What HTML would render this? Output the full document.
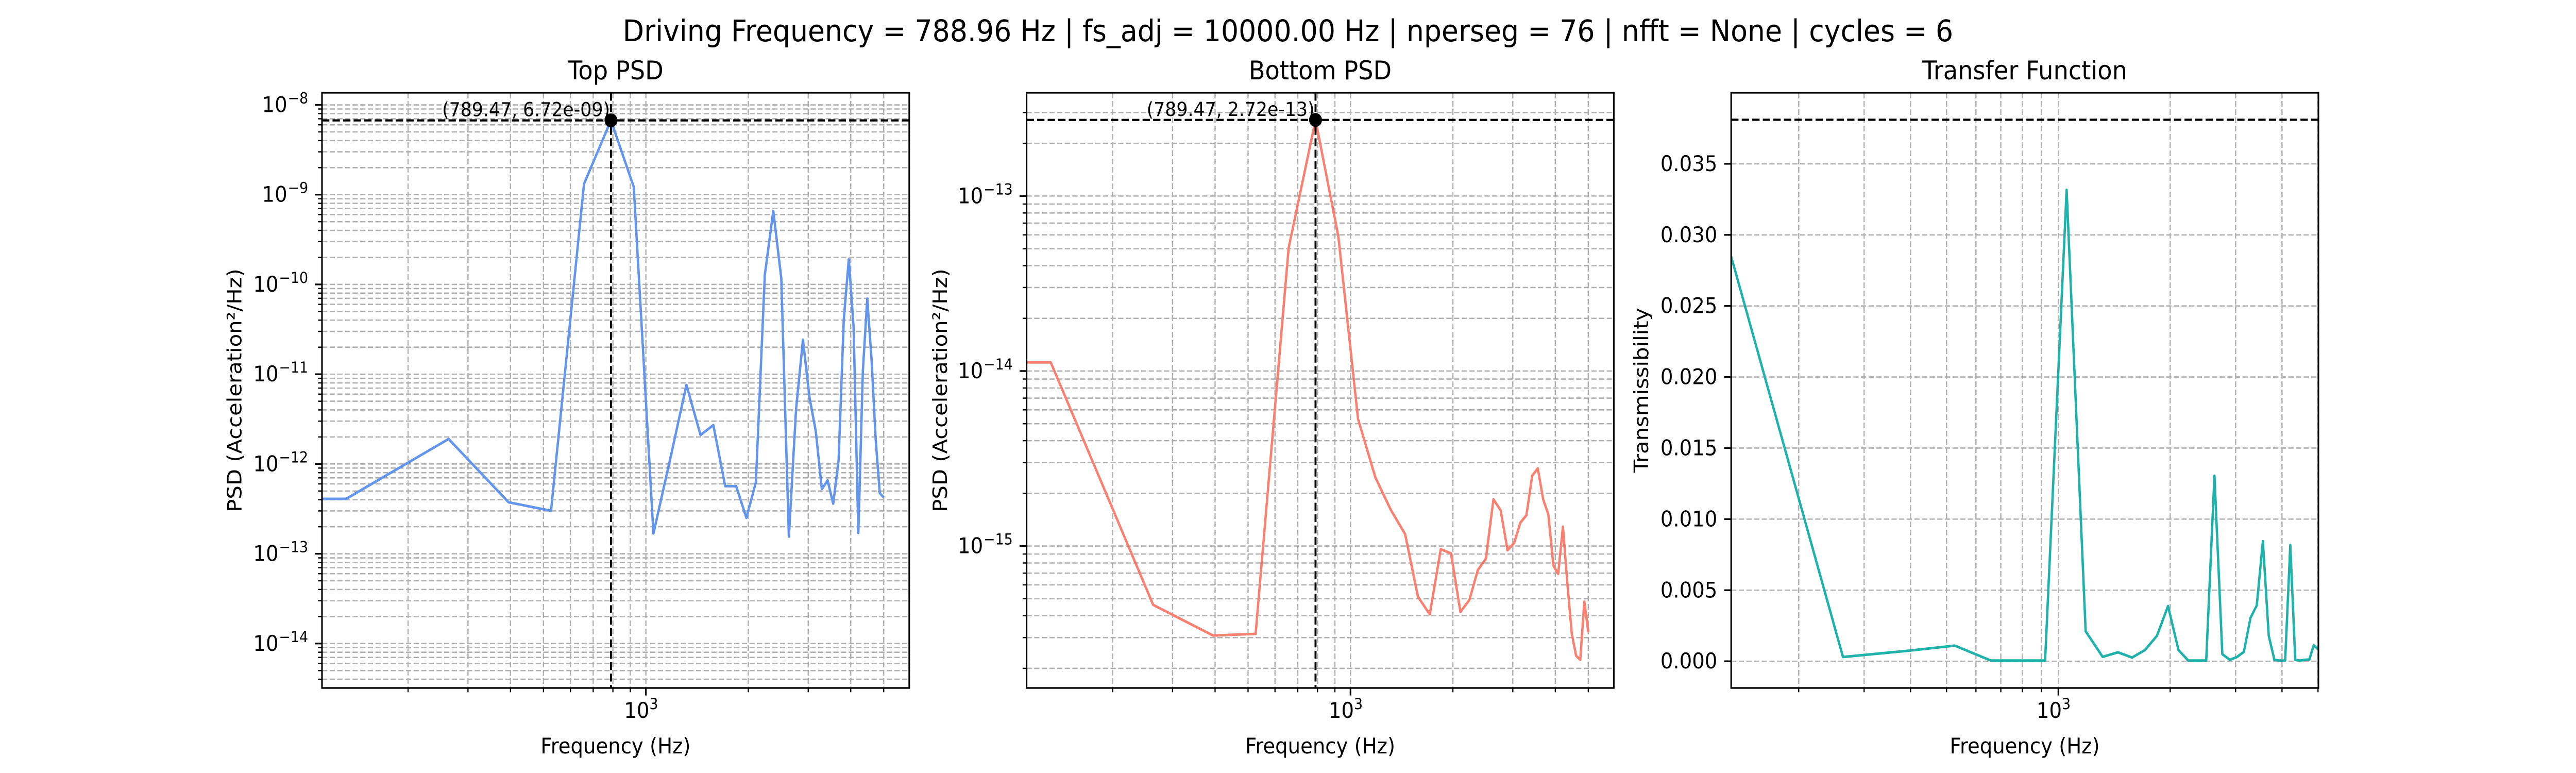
<!DOCTYPE html>
<html><head><meta charset="utf-8"><style>
html,body{margin:0;padding:0;background:#fff;overflow:hidden;width:100vw;height:100vh;}
svg{display:block;position:absolute;left:0;top:0;width:100vw;height:100vh;font-family:"DejaVu Sans","Liberation Sans",sans-serif;}
</style></head><body>
<svg id="fig" viewBox="0 0 5400 1500" preserveAspectRatio="none" xmlns="http://www.w3.org/2000/svg">
<rect width="5400" height="1500" fill="#fff"/>
<text x="2700" y="80" font-size="58" text-anchor="middle">Driving Frequency = 788.96 Hz | fs_adj = 10000.00 Hz | nperseg = 76 | nfft = None | cycles = 6</text>
</svg>
<script>
// ---- data ----
const psdFreqs = [111.7,131.58,263.16,394.74,526.32,657.89,789.47,921.05,1052.63,1184.21,1315.79,1447.37,1578.95,1710.53,1842.11,1973.68,2105.26,2236.84,2368.42,2500.0,2631.58,2763.16,2894.74,3026.32,3157.89,3289.47,3421.05,3552.63,3684.21,3815.79,3947.37,4078.95,4210.53,4342.11,4473.68,4605.26,4736.84,4868.42,5000.0];
const topPsd = [4.09e-13,4.09e-13,1.90e-12,3.75e-13,3.01e-13,1.32e-9,6.72e-9,1.22e-9,1.68e-13,1.23e-12,7.59e-12,2.10e-12,2.71e-12,5.66e-13,5.66e-13,2.51e-13,6.25e-13,1.28e-10,6.59e-10,1.17e-10,1.55e-13,4.08e-12,2.42e-11,5.47e-12,2.32e-12,5.25e-13,6.56e-13,3.61e-13,1.09e-12,4.06e-11,1.91e-10,3.34e-11,1.70e-13,1.09e-11,6.95e-11,1.46e-11,1.87e-12,4.75e-13,4.23e-13];
const bottomPsd = [1.12e-14,1.12e-14,4.61e-16,3.08e-16,3.15e-16,5.04e-14,2.72e-13,5.90e-14,5.32e-15,2.46e-15,1.60e-15,1.17e-15,5.13e-16,4.07e-16,9.59e-16,9.08e-16,4.20e-16,4.93e-16,7.30e-16,8.47e-16,1.85e-15,1.60e-15,9.46e-16,1.04e-15,1.36e-15,1.50e-15,2.52e-15,2.78e-15,1.85e-15,1.51e-15,7.74e-16,6.93e-16,1.29e-15,6.03e-16,3.14e-16,2.36e-16,2.24e-16,4.81e-16,3.22e-16];
const tfFreqs = [131.58,263.16,394.74,526.32,657.89,789.47,921.05,1052.63,1184.21,1315.79,1447.37,1578.95,1710.53,1842.11,1973.68,2105.26,2236.84,2368.42,2500.0,2631.58,2763.16,2894.74,3026.32,3157.89,3289.47,3421.05,3552.63,3684.21,3815.79,3947.37,4078.95,4210.53,4342.11,4473.68,4605.26,4736.84,4868.42,5000.0];
const transfer = [0.02848,0.0003,0.00074,0.0011,0.00005,0.00005,0.00005,0.03317,0.00211,0.00031,0.00063,0.00026,0.00079,0.00179,0.00388,0.00079,0.00005,0.00005,0.00005,0.01305,0.0005,0.0001,0.0003,0.00066,0.00305,0.00393,0.00844,0.00179,0.0001,0.00005,0.00005,0.00817,0.0001,0.00005,0.0001,0.00012,0.00112,0.00085];
const peakFreq = 789.47;
const topPeak = 6.72e-9;
const bottomPeak = 2.72e-13;
const tfRefLine = 0.0381;
const tfTicks = [0.000,0.005,0.010,0.015,0.020,0.025,0.030,0.035];

const NS = "http://www.w3.org/2000/svg";
const fig = document.getElementById('fig');
function mk(tag, attrs, parent){ const e=document.createElementNS(NS,tag); for(const k in attrs) e.setAttribute(k,attrs[k]); (parent||fig).appendChild(e); return e; }

const TOP=180, BOT=1335, GRID="#b0b0b0";
function logX(x0,x1,fmin,fmax){ return f => x0+(x1-x0)*(Math.log10(f)-Math.log10(fmin))/(Math.log10(fmax)-Math.log10(fmin)); }

function panel(opt){
  const g = mk('g',{});
  
  
  const {x0,x1,fmin,fmax} = opt;
  const X = logX(x0,x1,fmin,fmax);
  const Y = opt.Y;
  const clipId = opt.name+'-clip';
  const cp = mk('clipPath',{id:clipId},g); mk('rect',{x:x0,y:TOP,width:x1-x0,height:BOT-TOP},cp);
  const grid = mk('g',{stroke:GRID,'stroke-width':2.6,'stroke-dasharray':'11 5'},g);
  
  
  for(let d=2; d<=3; d++){
    for(let m=1;m<=9;m++){
      const f=m*Math.pow(10,d); if(f<fmin||f>fmax) continue;
      const x=X(f);
      mk('line',{x1:x,x2:x,y1:TOP,y2:BOT},grid);
      const major = (m===1);
      mk('line',{x1:x,x2:x,y1:BOT,y2:BOT+(major?14.6:8.3),stroke:'#000','stroke-width':major?3.3:2.5},g);
      if(major){
        const t=mk('text',{x:x-10,y:1393,'font-size':41.7,'text-anchor':'middle'},g);
        
        
        t.textContent='10';
        const s=mk('tspan',{dy:-17,'font-size':29},t); s.textContent=d;
      }
    }
  }
  opt.yaxis(g,grid);
  const gc = mk('g',{'clip-path':'url(#'+clipId+')'},g);
  const pts = opt.freqs.map((f,i)=>X(f).toFixed(1)+','+Y(opt.values[i]).toFixed(1)).join(' ');
  const line = mk('polyline',{points:pts,fill:'none',stroke:opt.color,'stroke-width':5,'stroke-linejoin':'round'},gc);
  
  
  if(opt.hline!==undefined){
    const hl = mk('line',{x1:x0,x2:x1,y1:Y(opt.hline),y2:Y(opt.hline),stroke:'#000','stroke-width':4.2,'stroke-dasharray':'15.4 6.7'},gc);
    
    
  }
  if(opt.peak!==undefined){
    const px=X(peakFreq), py=Y(opt.peak);
    const vl = mk('line',{x1:px,x2:px,y1:TOP,y2:BOT,stroke:'#000','stroke-width':4.2,'stroke-dasharray':'15.4 6.7'},gc);
    
    
    const c = mk('circle',{cx:px,cy:py,r:13.5,fill:'#000'},g);
    
    
    const at = mk('text',{x:px-2,y:py-8,'font-size':37.5,'text-anchor':'end'},g);
    
    
    at.textContent='('+peakFreq.toFixed(2)+', '+opt.peak.toExponential(2).replace(/e([+-])(\d)$/,'e$10$2')+')';
  }
  const fr = mk('rect',{x:x0,y:TOP,width:x1-x0,height:BOT-TOP,fill:'none',stroke:'#000','stroke-width':3.3},g);
  
  
  const tt = mk('text',{x:(x0+x1)/2,y:154,'font-size':50,'text-anchor':'middle'},g);
  
  
  tt.textContent=opt.title;
  const xl = mk('text',{x:(x0+x1)/2,y:1462,'font-size':41.7,'text-anchor':'middle'},g);
  
  
  xl.textContent='Frequency (Hz)';
  const yl = mk('text',{x:0,y:0,'font-size':41.7,'text-anchor':'middle',transform:'translate('+(opt.ylabX)+','+((TOP+BOT)/2)+') rotate(-90)'},g);
  
  
  yl.textContent=opt.ylabel;
}

function logYAxis(x0,x1,emin,emax,Y,name){
  return (g,grid)=>{
    for(let e=Math.floor(emin); e<=Math.ceil(emax); e++){
      for(let m=1;m<=9;m++){
        const v=m*Math.pow(10,e); const lv=Math.log10(v);
        if(lv<emin||lv>emax) continue;
        const y=Y(v);
        mk('line',{x1:x0,x2:x1,y1:y,y2:y},grid);
        const major=(m===1);
        mk('line',{x1:x0-(major?14.6:8.3),x2:x0,y1:y,y2:y,stroke:'#000','stroke-width':major?3.3:2.5},g);
        if(major){
          const sup=mk('text',{x:x0-29,y:y-3,'font-size':29,'text-anchor':'end'},g);
          
          
          sup.textContent='\u2212'+(-e);
          const w = sup.getComputedTextLength ? sup.getComputedTextLength() : 45;
          const t=mk('text',{x:x0-29-w-1,y:y+14,'font-size':41.7,'text-anchor':'end'},g);
          
          
          t.textContent='10';
        }
      }
    }
  };
}

{
  const emin=-14.495, emax=-7.865;
  const Y = v => TOP+(BOT-TOP)*(emax-Math.log10(v))/(emax-emin);
  panel({name:'top-psd',x0:675,x1:1906,fmin:111.7,fmax:5943,Y,freqs:psdFreqs,values:topPsd,color:'#6495ED',
    hline:topPeak,peak:topPeak,title:'Top PSD',ylabel:'PSD (Acceleration\u00b2/Hz)',ylabX:506,
    yaxis:logYAxis(675,1906,emin,emax,Y,'top-psd')});
}
{
  const emin=-15.811, emax=-12.41;
  const Y = v => TOP+(BOT-TOP)*(emax-Math.log10(v))/(emax-emin);
  panel({name:'bottom-psd',x0:2152,x1:3383,fmin:111.7,fmax:5943,Y,freqs:psdFreqs,values:bottomPsd,color:'#FA8072',
    hline:bottomPeak,peak:bottomPeak,title:'Bottom PSD',ylabel:'PSD (Acceleration\u00b2/Hz)',ylabX:1985,
    yaxis:logYAxis(2152,3383,emin,emax,Y,'bottom-psd')});
}
{
  const vmin=-0.00188, vmax=0.04;
  const Y = v => TOP+(BOT-TOP)*(vmax-v)/(vmax-vmin);
  panel({name:'transfer-function',x0:3629,x1:4860,fmin:131.58,fmax:5012,Y,freqs:tfFreqs,values:transfer,color:'#20B2AA',
    hline:tfRefLine,title:'Transfer Function',ylabel:'Transmissibility',ylabX:3455,
    yaxis:(g,grid)=>{
      tfTicks.forEach(v=>{
        const y=Y(v);
        mk('line',{x1:3629,x2:4860,y1:y,y2:y},grid);
        mk('line',{x1:3629-14.6,x2:3629,y1:y,y2:y,stroke:'#000','stroke-width':3.3},g);
        const t=mk('text',{x:3600,y:y+14,'font-size':41.7,'text-anchor':'end'},g);
        
        
        t.textContent=v.toFixed(3);
      });
    }});
}
</script>
</body></html>
